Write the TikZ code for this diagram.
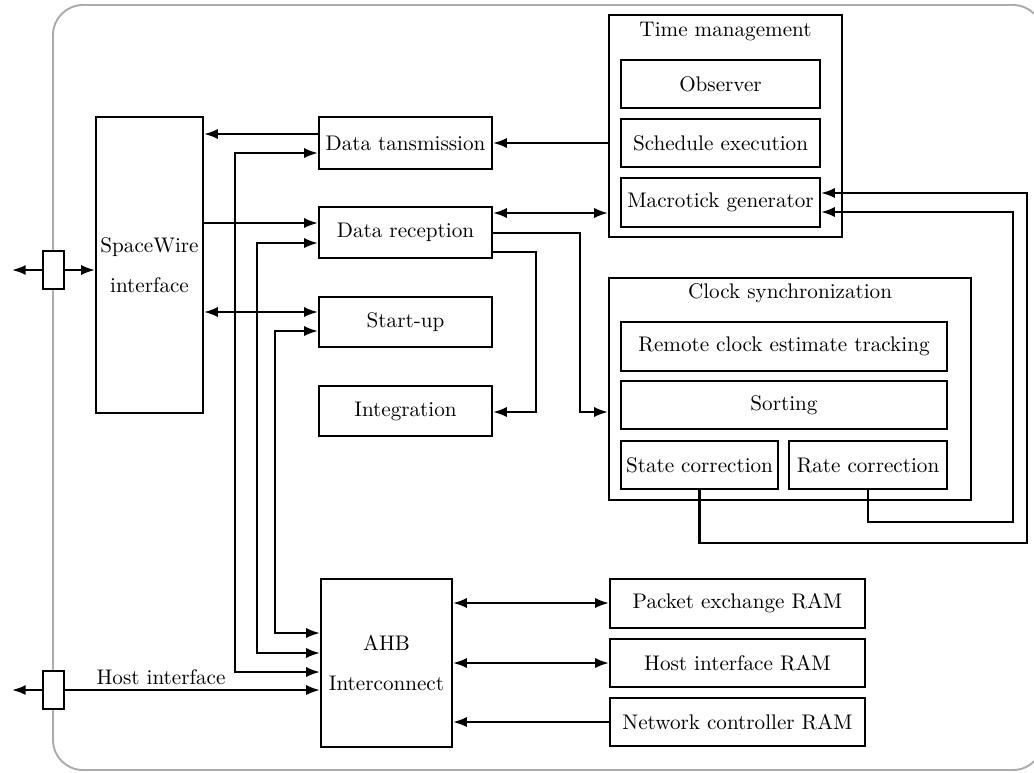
\documentclass[tikz,border=0pt]{standalone}
\usetikzlibrary{arrows.meta}
% one drawing unit
\newcommand\pxl{0.473pt}
% \blk{name}{x1}{y1}{x2}{y2}{text}: a framed block given by its corners
\newcommand\blk[6]{%
  \node[blk, minimum width={(#4-#2)*\pxl}, minimum height={(#5-#3)*\pxl}]
    (#1) at ({(#2+#4)/2},{(#3+#5)/2}) {#6};}
\begin{document}
\begin{tikzpicture}[x=\pxl, y=-\pxl, line width=1pt,
  blk/.style={draw, fill=white, rectangle, inner sep=1pt, align=center},
  tip/.style={Latex[length=6.5pt,width=4.8pt]},
  arr/.style={-{Latex[length=6.5pt,width=4.8pt]}},
  darr/.style={{Latex[length=6.5pt,width=4.8pt]}-{Latex[length=6.5pt,width=4.8pt]}},
  frame/.style={draw=black!33, line width=0.9pt, rounded corners=30*\pxl},
  title/.style={inner sep=0pt}]
\useasboundingbox (0,0) rectangle (1034,772);
% outer frame
\draw[frame] (53,5) rectangle (1043,770);

% ports on the frame
\blk{swport}{43}{251}{64}{289}{}
\blk{hostport}{43}{671}{64}{709}{}
\coordinate (swext) at (12,270);
\coordinate (hostext) at (12,690);

% left column
\blk{sw}{96}{117}{203}{413}{SpaceWire\\[7pt]interface}
\blk{ahb}{321}{579}{452}{747}{AHB\\[7pt]Interconnect}

% middle column
\blk{dt}{319}{117}{492}{169}{Data tansmission}
\blk{dr}{319}{207}{492}{258}{Data reception}
\blk{su}{319}{297}{492}{347}{Start-up}
\blk{integ}{319}{386}{492}{436}{Integration}

% time management
\blk{tm}{609}{15}{842}{237}{}
\node[title] (tmtitle) at (725.5,32) {Time management};
\blk{obs}{621}{60}{820}{108}{Observer}
\blk{se}{621}{119}{820}{167}{Schedule execution}
\blk{mg}{621}{178}{820}{227}{Macrotick generator}

% clock synchronization
\blk{cs}{609}{278}{971}{500}{}
\node[title] (cstitle) at (790,293) {Clock synchronization};
\blk{rcet}{621}{322}{947}{371}{Remote clock estimate tracking}
\blk{sort}{621}{381}{947}{429}{Sorting}
\blk{sc}{621}{441}{778}{489}{State correction}
\blk{rc}{789}{441}{947}{489}{Rate correction}

% memories
\blk{per}{610}{579}{865}{628}{Packet exchange RAM}
\blk{hir}{610}{639}{865}{687}{Host interface RAM}
\blk{ncr}{610}{698}{865}{746}{Network controller RAM}

% port connections
\draw[arr] (swport.west) -- (swext);
\draw[arr] (swport.east) -- (sw.west |- swport.east);
\draw[arr] (hostport.west) -- (hostext);
\draw[arr] (hostport.east) -- (ahb.west |- hostport.east);
\node[anchor=base, inner sep=0pt] (hostlbl) at (161,684) {Host interface};

% SpaceWire interface links
\draw[arr] (dt.west |- 0,134) -- (sw.east |- 0,134);
\draw[arr] (sw.east |- 0,223) -- (dr.west |- 0,223);
\draw[darr] (sw.east |- 0,312) -- (su.west |- 0,312);

% bus links to the AHB interconnect
\draw[darr] (ahb.west |- 0,672) -| (235,153) -- (dt.west |- 0,153);
\draw[darr] (ahb.west |- 0,653) -| (257,243) -- (dr.west |- 0,243);
\draw[darr] (ahb.west |- 0,633) -| (275,331) -- (su.west |- 0,331);

% time management and reception paths
\draw[arr] (tm.west |- 0,143) -- (dt.east |- 0,143);
\draw[darr] (dr.east |- 0,213) -- (tm.west |- 0,213);
\draw[arr] (dr.east |- 0,233) -| (580,412) -- (cs.west |- 0,412);
\draw[arr] (dr.east |- 0,252) -| (536,412) -- (integ.east |- 0,412);

% correction feedback to the macrotick generator
\draw[arr] (sc.south) |- (1027,543) |- (mg.east |- 0,193);
\draw[arr] (rc.south) |- (1013,522) |- (mg.east |- 0,212);

% memory links
\draw[darr] (ahb.east |- 0,603) -- (per.west |- 0,603);
\draw[darr] (ahb.east |- 0,663) -- (hir.west |- 0,663);
\draw[arr] (ncr.west |- 0,722) -- (ahb.east |- 0,722);
\end{tikzpicture}
\end{document}
